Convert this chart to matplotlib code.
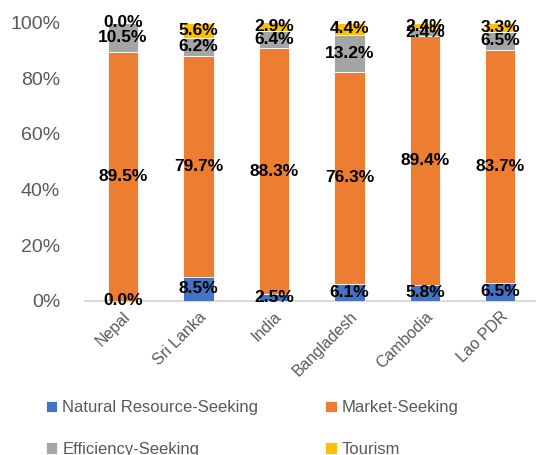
import matplotlib
matplotlib.use("Agg")
import matplotlib.pyplot as plt
import numpy as np

plt.rcParams['font.family'] = ['Liberation Sans', 'DejaVu Sans']

countries = ["Nepal", "Sri Lanka", "India", "Bangladesh", "Cambodia", "Lao PDR"]
natural_resource = [0.0, 8.5, 2.5, 6.1, 5.8, 6.5]
market = [89.5, 79.7, 88.3, 76.3, 89.4, 83.7]
efficiency = [10.5, 6.2, 6.4, 13.2, 2.4, 6.5]
tourism = [0.0, 5.6, 2.9, 4.4, 2.4, 3.3]

series = [
    ("Natural Resource-Seeking", natural_resource, "#4472C4"),
    ("Market-Seeking", market, "#ED7D31"),
    ("Efficiency-Seeking", efficiency, "#A5A5A5"),
    ("Tourism", tourism, "#FFC000"),
]

fig = plt.figure(figsize=(5.36, 4.55), dpi=100)
ax = fig.add_axes([0.159, 0.339, 0.845, 0.611])

x = np.arange(len(countries))
bottom = np.zeros(len(countries))
bars = []
for name, vals, col in series:
    vals = np.array(vals)
    b = ax.bar(x, vals, 0.4, bottom=bottom, color=col, label=name,
               edgecolor='white', linewidth=0.6, zorder=2)
    bars.append(b)
    for xi, b0, v in zip(x, bottom, vals):
        ax.text(xi, b0 + v / 2, f"{v:.1f}%", ha='center', va='center',
                fontsize=12.5, fontweight='bold', color='black', zorder=3)
    bottom += vals

ax.set_xlim(-0.5, 5.5)
ax.set_ylim(0, 100)
ax.set_yticks([0, 20, 40, 60, 80, 100])
ax.set_yticklabels([f"{t}%" for t in [0, 20, 40, 60, 80, 100]])
ax.set_xticks(x)
ax.set_xticklabels(countries, rotation=45, ha='right', rotation_mode='anchor')
ax.tick_params(axis='y', length=0, labelsize=14, labelcolor='#595959', pad=18)
ax.tick_params(axis='x', length=0, labelsize=11.5, labelcolor='#595959', pad=6)
for s in ['top', 'right', 'left']:
    ax.spines[s].set_visible(False)
ax.spines['bottom'].set_color('#D9D9D9')
ax.spines['bottom'].set_linewidth(1.5)
ax.spines['bottom'].set_zorder(1)

# legend fills column-wise, so reorder to read row by row
order = [0, 2, 1, 3]
fig.legend([bars[i] for i in order], [series[i][0] for i in order],
           loc='upper left', bbox_to_anchor=(0.085, 0.12), ncol=2,
           frameon=False, fontsize=12, handlelength=0.7, handleheight=0.7,
           handletextpad=0.3, columnspacing=4.0, labelspacing=1.6,
           borderpad=0, borderaxespad=0, labelcolor='#595959')

fig.savefig("out.png", dpi=100)
